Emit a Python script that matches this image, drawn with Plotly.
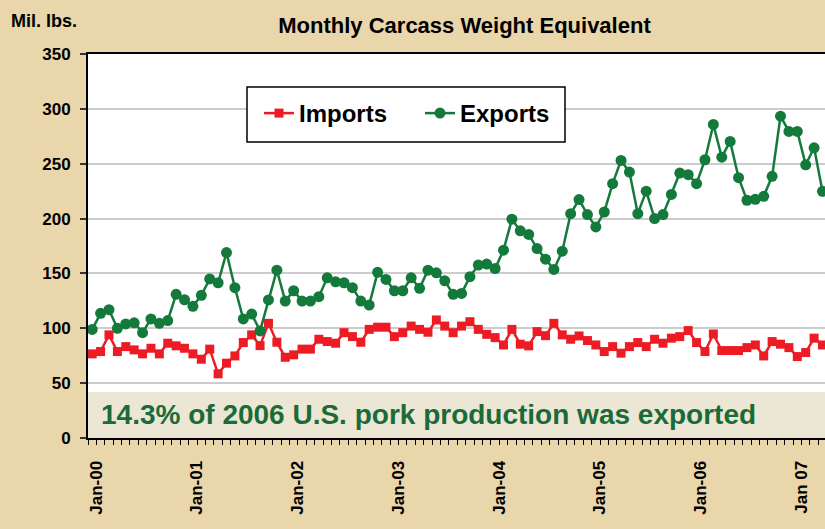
import plotly.graph_objects as go

month_names = ["Jan", "Feb", "Mar", "Apr", "May", "Jun", "Jul", "Aug", "Sep", "Oct", "Nov", "Dec"]
years = ["00", "01", "02", "03", "04", "05", "06", "07"]
months = [f"{m}-{y}" for y in years for m in month_names][:88]

exports = [
    99, 113.6, 117, 100, 104, 105, 96, 108.5, 104.5, 107, 131, 126,
    120, 130, 145, 141.5, 169, 137, 108.5, 113, 97.6, 125.8, 153, 124.8,
    134.2, 124.8, 124.8, 128.8, 146, 142.4, 141.5, 137, 124.8, 121.2, 151, 144.5,
    134.2, 134.2, 146, 136.4, 153, 150.6, 143.3, 131, 131.8, 147, 157.6, 158.5,
    154.5, 171.2, 199.4, 188.8, 185.5, 172.7, 163, 153.6, 170.3, 204.5, 217.3, 203.6,
    192.4, 206, 231.8, 253, 242.4, 204.5, 225, 200, 203.6, 222, 241.5, 240,
    231.8, 253.6, 285.8, 256, 270.3, 237.3, 216.7, 217.6, 220.3, 238.5, 293.3, 279.4,
    279.4, 249, 264.5, 224.8,
]

imports = [
    76.7, 78.8, 94, 78.8, 83.3, 80.3, 76.7, 81.8, 76.7, 86.4, 84, 81.8,
    76.7, 71.8, 81, 58.5, 68.2, 74.8, 87, 94, 84.2, 104.5, 87.3, 73.6,
    75.8, 81, 81, 90, 87.9, 86.4, 96, 92.4, 87.3, 99, 101, 101,
    92.4, 96, 102, 99, 96.4, 107.6, 102, 96, 102, 106, 99, 94.5,
    91.5, 84.8, 99, 85.5, 84, 97, 93.3, 104.5, 94, 90, 93, 88.8,
    84.8, 78.8, 83.3, 77.3, 83.3, 87, 83.3, 90, 86.4, 91, 92.4, 97.9,
    87, 78.8, 94.8, 79.7, 79.7, 79.7, 82.4, 84.8, 74.8, 87.9, 85.5, 82.4,
    74.2, 77.9, 91, 84.8,
]

jan_labels = ["Jan-00", "Jan-01", "Jan-02", "Jan-03", "Jan-04", "Jan-05", "Jan-06", "Jan 07"]
y_ticks = [0, 50, 100, 150, 200, 250, 300, 350]

tick_text = []
for i, m in enumerate(months):
    tick_text.append(jan_labels[i // 12] if i % 12 == 0 else "")

FONT = "Arial, Liberation Sans, sans-serif"
RED = "#ED1C24"
GREEN = "#137A3C"

fig = go.Figure()
fig.add_trace(go.Scatter(
    x=months, y=imports, name="Imports", mode="lines+markers",
    line=dict(color=RED, width=2.5),
    marker=dict(symbol="square", size=9, color=RED),
))
fig.add_trace(go.Scatter(
    x=months, y=exports, name="Exports", mode="lines+markers",
    line=dict(color=GREEN, width=2.5),
    marker=dict(symbol="circle", size=11, color=GREEN),
))

W, H = 825, 529
L, R, T, B = 88, 0, 54, 91

def px_x(x):
    return (x - L) / (W - L - R)

def px_y(y):
    return (H - B - y) / (H - B - T)

fig.update_layout(
    width=W, height=H,
    margin=dict(l=L, r=R, t=T, b=B),
    paper_bgcolor="#E9D6AA",
    plot_bgcolor="#FFFFFF",
    font=dict(family=FONT, color="#000000"),
    showlegend=True,
    legend=dict(
        orientation="h", x=px_x(259), y=px_y(91), xanchor="left", yanchor="top",
        bgcolor="rgba(0,0,0,0)", borderwidth=0,
        font=dict(size=24, family=FONT, color="#000000", weight="bold"),
        itemwidth=30, entrywidth=116, entrywidthmode="pixels",
    ),
    title=dict(
        text="Monthly Carcass Weight Equivalent",
        x=464.5 / W, xanchor="center", xref="container",
        y=1 - 25 / H, yanchor="middle", yref="container",
        font=dict(size=22, family=FONT, color="#000000", weight="bold"),
    ),
    xaxis=dict(
        type="category",
        categoryorder="array", categoryarray=months,
        range=[-0.5, 87.3],
        tickmode="array", tickvals=months, ticktext=tick_text,
        tickangle=-90, tickson="boundaries",
        ticks="outside", ticklen=5, tickwidth=1, tickcolor="#000000",
        ticklabelstandoff=14, ticklabelshift=4,
        tickfont=dict(size=17, family=FONT, color="#000000", weight="bold"),
        showline=True, linecolor="#000000", linewidth=2, mirror=True,
        showgrid=False, zeroline=False,
    ),
    yaxis=dict(
        range=[0, 350],
        tickmode="array", tickvals=y_ticks,
        ticks="outside", ticklen=6, tickwidth=1.5, tickcolor="#333333",
        ticklabelstandoff=6,
        tickfont=dict(size=17, family=FONT, color="#000000", weight="bold"),
        showline=True, linecolor="#000000", linewidth=2,
        showgrid=True, gridcolor="#CCCCCC", gridwidth=2,
        zeroline=False,
    ),
    shapes=[
        dict(type="rect", xref="paper", yref="paper",
             x0=0, x1=1, y0=0, y1=px_y(392),
             fillcolor="#ECE6D5", line=dict(width=0), layer="below"),
        dict(type="rect", xref="paper", yref="paper",
             x0=px_x(247), x1=px_x(565), y0=px_y(142), y1=px_y(87),
             fillcolor="#FFFFFF", line=dict(color="#000000", width=1.5), layer="above"),
    ],
    annotations=[
        dict(text="14.3% of 2006 U.S. pork production was exported",
             xref="paper", yref="paper", x=px_x(99), y=px_y(414),
             xanchor="left", yanchor="middle", showarrow=False,
             font=dict(size=28, family=FONT, color="#1A6B38", weight="bold")),
        dict(text="Mil. lbs.", xref="paper", yref="paper",
             x=px_x(9), y=px_y(21), xanchor="left", yanchor="middle", showarrow=False,
             font=dict(size=18, family=FONT, color="#000000", weight="bold")),
    ],
)

fig.write_html(
    "out.html",
    config={"displayModeBar": False},
    post_script="document.body.style.margin='0';document.body.style.overflow='hidden';",
)
